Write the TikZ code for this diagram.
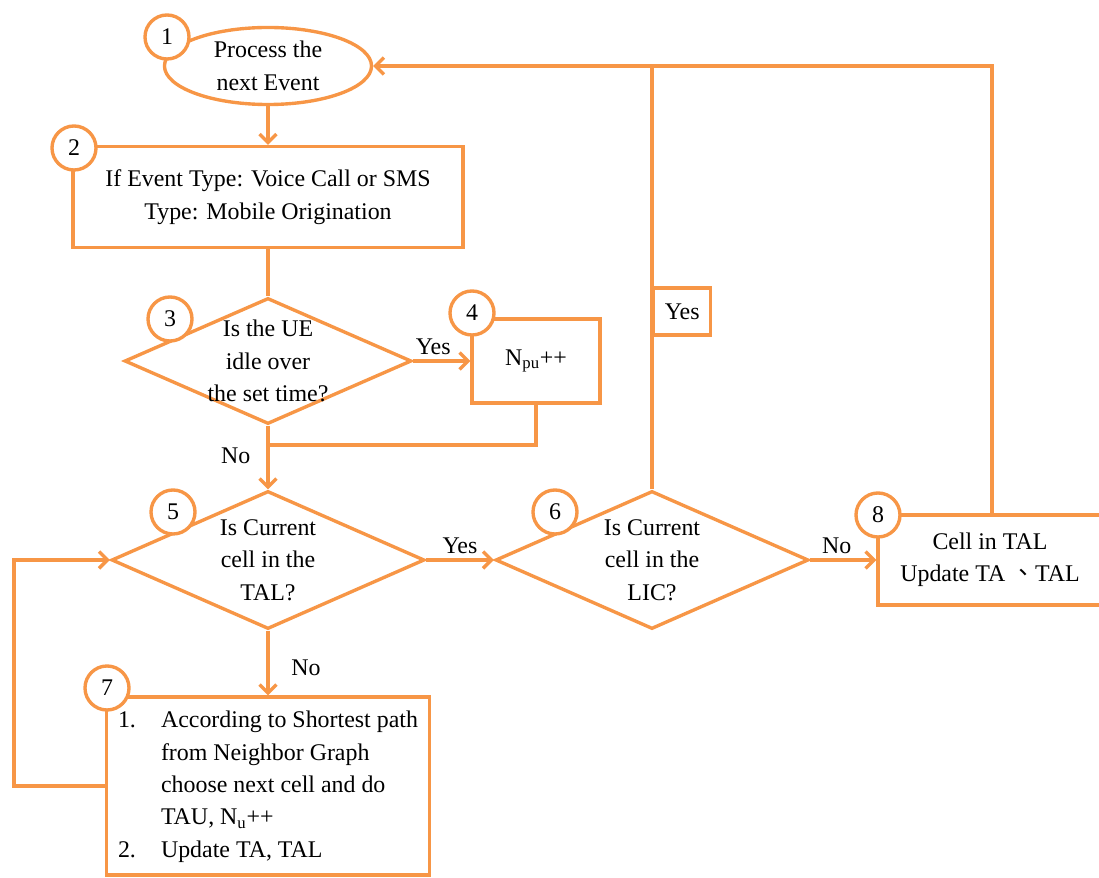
\documentclass[tikz,border=0pt]{standalone}
\usepackage{fontspec}
\setmainfont{Liberation Serif}
\newfontfamily\cjk{Noto Sans CJK TC}
\usetikzlibrary{shapes.geometric,arrows.meta}
\definecolor{flow}{RGB}{247,150,70}

\begin{document}
\begin{tikzpicture}[x=0.025cm,y=-0.025cm,
    every node/.style={font=\fontsize{17}{23}\selectfont},
    >={Straight Barb[length=6pt,width=12pt]},
    line/.style={draw=flow,line width=2.4pt},
    arr/.style={line,->},
    terminal/.style={draw=flow,line width=2.4pt,ellipse,inner sep=0pt,
      minimum width=5.175cm,minimum height=1.925cm},
    task/.style={draw=flow,line width=2.4pt,rectangle,inner sep=0pt,align=center},
    decision/.style={draw=flow,line width=2.4pt,diamond,inner sep=0pt,
      minimum width=7.825cm,minimum height=3.45cm},
    num/.style={draw=flow,line width=2.4pt,circle,fill=white,
      minimum size=1.1cm,inner sep=0pt}]
  \useasboundingbox (0,0) rectangle (1099,878);

  % boxes and decisions
  \node[terminal] (start) at (268,66) {};
  \node[align=center] (startt) at (start) {Process the\\next Event};
  \node[task,minimum width=9.75cm,minimum height=2.525cm] (type2) at (268,197)
    {If Event Type: Voice Call or SMS\\Type: Mobile Origination};
  \node[decision,minimum width=7.175cm,minimum height=3.15cm] (idle3) at (268,361) {};
  \node[align=center] (idle3t) at (idle3) {Is the UE\\idle over\\the set time?};
  \node[task,minimum width=3.2cm,minimum height=2.1cm] (npu4) at (536,361)
    {N\textsubscript{pu}++};
  \coordinate (merge) at (268,445);
  \node[decision] (tal5) at (268,560) {};
  \node[align=center] (tal5t) at (tal5) {Is Current\\cell in the\\TAL?};
  \node[decision] (lic6) at (652,560) {};
  \node[align=center] (lic6t) at (lic6) {Is Current\\cell in the\\LIC?};
  \node[task,minimum width=5.6cm,minimum height=2.25cm] (cell8) at (990,560)
    {Cell in TAL\\Update TA {\cjk 、}TAL};
  \node[task,minimum width=8.075cm,minimum height=4.45cm,align=left] (tau7) at (268,786)
    {\begin{tabular}{@{}p{1.075cm}@{}l@{}}
      1. & According to Shortest path\\
         & from Neighbor Graph\\
         & choose next cell and do\\
         & TAU, N\textsubscript{u}++\\
      2. & Update TA, TAL
    \end{tabular}};
  \coordinate (back) at (992,66);
  \coordinate (loop) at (14,786);

  % connectors
  \draw[arr] (start) -- (type2);
  \draw[line] (type2) -- (idle3);
  \draw[arr] (idle3) -- node[above,pos=0.35] (yes3) {Yes} (npu4);
  \draw[line] (npu4) |- (merge);
  \draw[arr] (idle3) -- node[left=8pt,pos=0.48] (no3) {No} (tal5);
  \draw[arr] (tal5) -- node[above] (yes5) {Yes} (lic6);
  \draw[arr] (lic6) -- node[above,pos=0.4] (no6) {No} (cell8);
  \draw[arr] (cell8.north -| back) -- (back) -- (start.east);
  \draw[line] (lic6.north) -- node[pos=0.42,anchor=west,draw=flow,line width=2.4pt,
    minimum width=1.425cm,minimum height=1.175cm,inner sep=0pt] (yes6) {Yes}
    (lic6.north |- back);
  \draw[arr] (tal5) -- node[right=12pt,pos=0.57] (no5) {No} (tau7);
  \draw[arr] (tau7.west) -- (loop) |- (tal5.west);

  % step numbers
  \node[num] (n1) at (167,37) {1};
  \node[num] (n2) at (74,148) {2};
  \node[num] (n3) at (170,319) {3};
  \node[num] (n4) at (472,313) {4};
  \node[num] (n5) at (173,512) {5};
  \node[num] (n6) at (555,512) {6};
  \node[num] (n7) at (107,688) {7};
  \node[num] (n8) at (878,515) {8};
\end{tikzpicture}
\end{document}
